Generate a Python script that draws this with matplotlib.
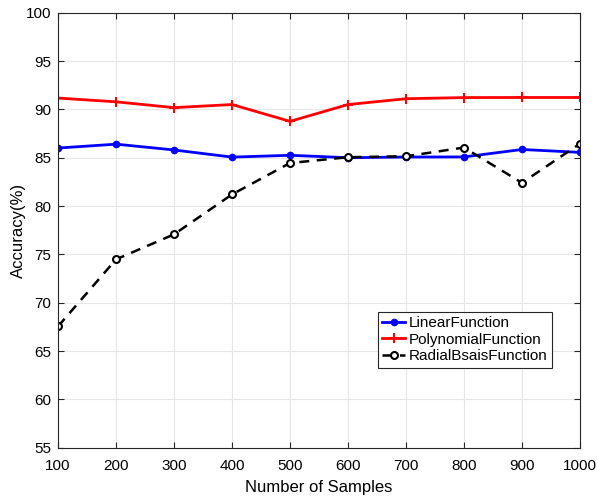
import numpy as np
import matplotlib.pyplot as plt

plt.rcParams['font.family'] = ['Liberation Sans', 'DejaVu Sans']

# data
samples = [100, 200, 300, 400, 500, 600, 700, 800, 900, 1000]
linear = [86.0, 86.4, 85.8, 85.06, 85.25, 85.0, 85.07, 85.08, 85.85, 85.55]
poly = [91.17, 90.78, 90.18, 90.5, 88.76, 90.5, 91.1, 91.22, 91.23, 91.23]
rbf = [67.55, 74.48, 77.07, 81.2, 84.45, 85.05, 85.15, 86.05, 82.4, 86.45]
yticks = [55, 60, 65, 70, 75, 80, 85, 90, 95, 100]

fig = plt.figure(figsize=(5.97, 4.98), dpi=100)
ax = fig.add_axes([0.0972, 0.101, 0.8743, 0.8735])

ax.plot(samples, linear, color='blue', lw=2, marker='o', ms=4.5,
        label='LinearFunction')
ax.plot(samples, poly, color='red', lw=2, marker='+', ms=7, mew=1.5,
        label='PolynomialFunction')
ax.plot(samples, rbf, color='black', lw=1.8, ls=(0, (4, 3)), marker='o', ms=5,
        mfc='white', mew=1.5, label='RadialBsaisFunction')

ax.set_xlim(100, 1000)
ax.set_ylim(55, 100)
ax.set_xticks(samples)
ax.set_yticks(yticks)
ax.tick_params(direction='in', labelsize=11, top=True, right=True, length=4,
               color='#262626')
ax.tick_params(axis='x', pad=8)
ax.tick_params(axis='y', pad=5)
ax.grid(True, color='#e6e6e6', lw=0.8)
ax.set_axisbelow(True)
for s in ax.spines.values():
    s.set_color('#262626')
    s.set_linewidth(0.8)

ax.set_xlabel('Number of Samples', fontsize=12, labelpad=5)
ax.set_ylabel('Accuracy(%)', fontsize=12, labelpad=0)

leg = ax.legend(loc='lower right', bbox_to_anchor=(0.946, 0.184), fontsize=11,
                fancybox=False, framealpha=1, edgecolor='#262626',
                handlelength=1.5, handletextpad=0.2, borderpad=0.3,
                labelspacing=0.15, borderaxespad=0)
leg.get_frame().set_linewidth(0.8)

plt.savefig('out.png', dpi=100)
